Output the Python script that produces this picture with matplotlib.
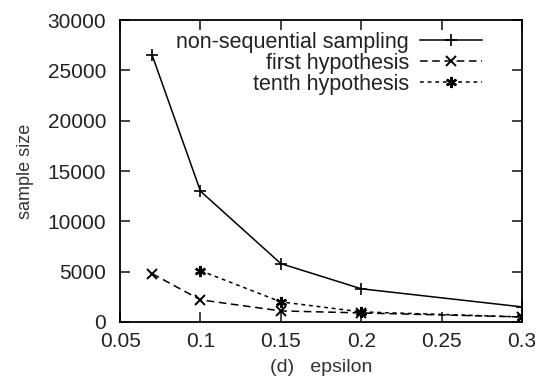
import matplotlib
matplotlib.use("Agg")
import matplotlib.pyplot as plt

# values
epsilon_nonseq = [0.07, 0.1, 0.15, 0.2, 0.3]
nonseq_sampling = [26500, 13000, 5800, 3300, 1500]

epsilon_first = [0.07, 0.1, 0.15, 0.2, 0.3]
first_hypothesis = [4800, 2200, 1100, 900, 500]

epsilon_tenth = [0.1, 0.15, 0.2, 0.3]
tenth_hypothesis = [5100, 2000, 1000, 500]

x_ticks = [0.05, 0.1, 0.15, 0.2, 0.25, 0.3]
x_tick_labels = ["0.05", "0.1", "0.15", "0.2", "0.25", "0.3"]
y_ticks = [0, 5000, 10000, 15000, 20000, 25000, 30000]

plt.rcParams["font.family"] = ["Liberation Sans", "DejaVu Sans"]

fig = plt.figure(figsize=(5.36, 3.87), dpi=100)
ax = fig.add_axes([0.224, 0.168, 0.75, 0.78])

ax.plot(epsilon_nonseq, nonseq_sampling, color="black", lw=1.1,
        marker="+", ms=9, mew=1.2, label="non-sequential sampling")
ax.plot(epsilon_first, first_hypothesis, color="black", lw=1.1,
        linestyle=(0, (5, 3)), marker="x", ms=7, mew=1.4,
        label="first hypothesis")
ax.plot(epsilon_tenth, tenth_hypothesis, color="black", lw=1.1,
        linestyle=(0, (2.5, 2.5)), marker=(6, 2, 0), ms=8, mew=1.7,
        label="tenth hypothesis")

ax.set_xlim(0.05, 0.3)
ax.set_ylim(0, 30000)
ax.set_xticks(x_ticks)
ax.set_xticklabels(x_tick_labels)
ax.set_yticks(y_ticks)
ax.tick_params(direction="in", length=7, width=1.2, top=True, right=True,
               labelsize=15, colors="#222222")
ax.tick_params(axis="x", pad=7)
ax.tick_params(axis="y", pad=10)
for s in ax.spines.values():
    s.set_linewidth(1.3)

ax.set_xlabel("(d)   epsilon", fontsize=14, labelpad=6, color="#333333")
ax.set_ylabel("sample size", fontsize=13, labelpad=10, color="#333333")

leg = ax.legend(loc="upper right", bbox_to_anchor=(0.922, 0.99),
                frameon=False, markerfirst=False,
                handlelength=2.9, handletextpad=0.5, labelspacing=0.0,
                borderaxespad=0.0, fontsize=15.5)
# right-align the legend rows like gnuplot does
for col in leg._legend_box._children[-1]._children:
    col.align = "right"
for t in leg.get_texts():
    t.set_color("#222222")

fig.savefig("out.png", dpi=100)
